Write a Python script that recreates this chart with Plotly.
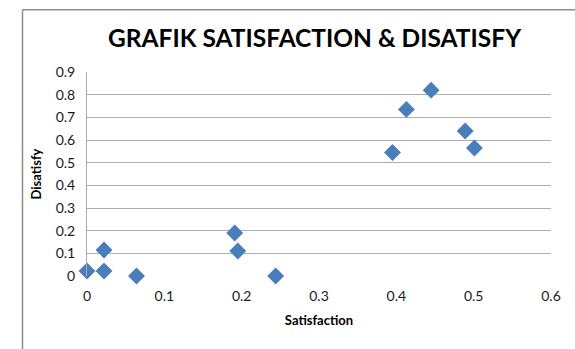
import plotly.graph_objects as go

# Survey scores per respondent group
satisfaction = [0.0, 0.022, 0.022, 0.064, 0.191, 0.195, 0.244, 0.395, 0.413, 0.445, 0.489, 0.501]
disatisfy = [0.022, 0.115, 0.022, 0.0, 0.19, 0.11, 0.0, 0.545, 0.735, 0.82, 0.64, 0.565]

x_ticks = [0, 0.1, 0.2, 0.3, 0.4, 0.5, 0.6]
y_ticks = [0, 0.1, 0.2, 0.3, 0.4, 0.5, 0.6, 0.7, 0.8, 0.9]

font_family = "Lato, 'Open Sans', sans-serif"
grid_color = "#adadad"

fig = go.Figure(
    go.Scatter(
        x=satisfaction,
        y=disatisfy,
        mode="markers",
        marker=dict(symbol="diamond", size=13, color="#4a7ebb", line=dict(width=0)),
        cliponaxis=False,
        showlegend=False,
    )
)

fig.update_layout(
    width=575,
    height=349,
    margin=dict(l=87, r=24, t=72, b=73),
    paper_bgcolor="white",
    plot_bgcolor="white",
    font=dict(family=font_family, color="#1a1a1a"),
    title=dict(
        text="<b>GRAFIK SATISFACTION &amp; DISATISFY</b>",
        x=0.547,
        xanchor="center",
        y=0.89,
        yanchor="middle",
        font=dict(size=24.5, color="#000000", family=font_family),
    ),
    shapes=[
        dict(type="line", xref="paper", yref="paper", x0=-0.139, x1=1.1,
             y0=1.305, y1=1.305, line=dict(color="#8c8c8c", width=1.5)),
        dict(type="line", xref="paper", yref="paper", x0=-0.139, x1=-0.139,
             y0=1.305, y1=-0.4, line=dict(color="#8c8c8c", width=1.5)),
    ],
)

fig.update_xaxes(
    range=[0, 0.6],
    tickvals=x_ticks,
    ticktext=[f"{v:g}" for v in x_ticks],
    showgrid=False,
    zeroline=False,
    showline=False,
    ticks="",
    ticklabelstandoff=10,
    tickfont=dict(size=14, color="#1a1a1a"),
    title=dict(text="<b>Satisfaction</b>", font=dict(size=13, color="#000000"), standoff=12),
)

fig.update_yaxes(
    range=[0, 0.9],
    tickvals=y_ticks,
    ticktext=[f"{v:g}" for v in y_ticks],
    showgrid=True,
    gridcolor=grid_color,
    gridwidth=1,
    zeroline=False,
    showline=True,
    linecolor=grid_color,
    linewidth=1,
    ticks="",
    ticklabelstandoff=8,
    tickfont=dict(size=14, color="#1a1a1a"),
    title=dict(text="<b>Disatisfy</b>", font=dict(size=13, color="#000000"), standoff=11),
)

fig.write_html("out.html")
